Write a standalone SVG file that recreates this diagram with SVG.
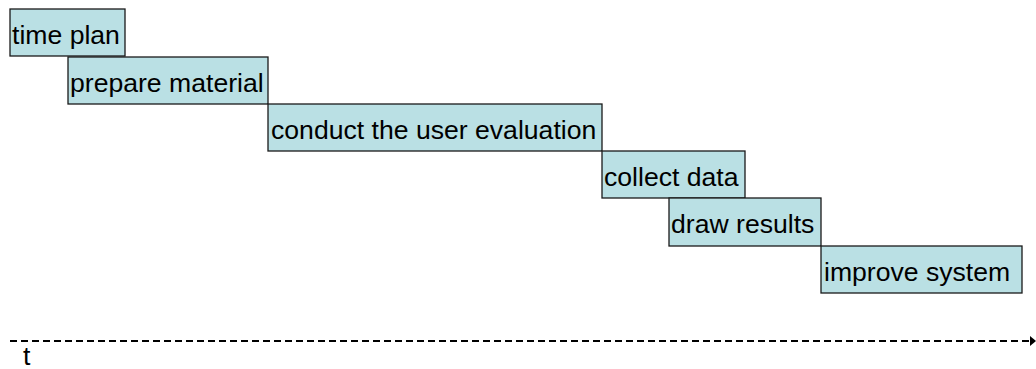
<svg xmlns="http://www.w3.org/2000/svg" width="1036" height="369" viewBox="0 0 1036 369">
  <style>
    .task rect { fill: #bae0e4; stroke: #1a1a1a; stroke-width: 1.3; }
    .task text, .axis-label { font-family: "Liberation Sans", Arial, sans-serif; font-size: 26.6px; fill: #000; }
    .timeline { stroke: #000; stroke-width: 1.8; stroke-dasharray: 7 4; fill: none; }
  </style>
  <rect width="1036" height="369" fill="#fff"/>

  <g id="time-plan" class="task">
    <rect x="10" y="9" width="115" height="47"/>
    <text x="12" y="43.5">time plan</text>
  </g>
  <g id="prepare-material" class="task">
    <rect x="68" y="57" width="200" height="47"/>
    <text x="70" y="91.5">prepare material</text>
  </g>
  <g id="conduct-evaluation" class="task">
    <rect x="268" y="104" width="334" height="47"/>
    <text x="271" y="138.5">conduct the user evaluation</text>
  </g>
  <g id="collect-data" class="task">
    <rect x="602" y="151" width="143" height="47"/>
    <text x="604" y="185.5">collect data</text>
  </g>
  <g id="draw-results" class="task">
    <rect x="669" y="198" width="152" height="48"/>
    <text x="671" y="232.5">draw results</text>
  </g>
  <g id="improve-system" class="task">
    <rect x="821" y="246" width="201" height="47"/>
    <text x="824" y="280.5">improve system</text>
  </g>

  <g id="connectors">
    <line class="timeline" x1="10" y1="341" x2="1030" y2="341"/>
    <path d="M1030,336 L1036,341 L1030,346 Z" fill="#000"/>
  </g>
  <text class="axis-label" x="23" y="365">t</text>
</svg>
